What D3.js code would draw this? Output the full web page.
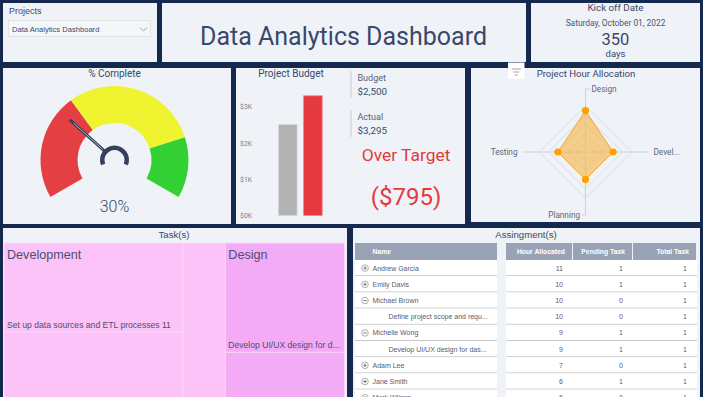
<!DOCTYPE html>
<html>
<head>
<meta charset="utf-8">
<script src="https://cdn.jsdelivr.net/npm/d3@7"></script>
<style>
  body { margin: 0; background: #15294f; overflow: hidden; }
  svg { display: block; }
</style>
</head>
<body>
<svg id="dash" width="703" height="397"></svg>
<script>
// ---- data ----
const projectList = ["Data Analytics Dashboard"];
const dashTitle = "Data Analytics Dashboard";
const kickoffDate = "Saturday, October 01, 2022";
const kickoffDays = 350;

const pctComplete = 0.30;
const gaugeStops = [0, 0.35, 0.80, 1];
const gaugeColors = ["#e43f42", "#eff330", "#33d033"];

const budgetLabels = ["Budget", "Actual"];
const budgetValues = [2500, 3295];
const budgetTicks = [0, 1000, 2000, 3000];

const radarAxes = ["Design", "Development", "Planning", "Testing"];
const radarHours = [18, 12, 12, 12];
const radarMax = 20;

const taskGroup = ["Development", "Development", "Development", "Design", "Design"];
const taskName = ["Set up data sources and ETL processes", "Build data model and measures",
  "Create report visuals", "Develop UI/UX design for dashboard", "Create wireframes"];
const taskHours = [11, 10, 5, 9, 5];
const taskColors = {"Development": "#fbc3f7", "Design": "#f4abf5"};

const tableCols = ["Hour Allocated", "Pending Task", "Total Task"];
const rowName = ["Andrew Garcia", "Emily Davis", "Michael Brown", "Define project scope and requirements",
  "Michelle Wong", "Develop UI/UX design for dashboard", "Adam Lee", "Jane Smith", "Mark Wilson"];
const rowLevel = [0, 0, 0, 1, 0, 1, 0, 0, 0];
const rowOpen = [false, false, true, null, true, null, false, false, false];
const rowHours = [11, 10, 10, 10, 9, 9, 7, 6, 6];
const rowPending = [1, 1, 0, 0, 1, 1, 0, 1, 0];
const rowTotal = [1, 1, 1, 1, 1, 1, 1, 1, 1];

// ---- styling ----
const PANEL = "#eff3f7";
const NAVY = "#3a4869";
const DIN = "Roboto, 'DejaVu Sans', sans-serif";
const SEGOE = "'Liberation Sans', Arial, sans-serif";
const VIEW_H = 397;

const svg = d3.select("#dash");

function panel(x, y, w, h) {
  svg.append("rect").attr("x", x).attr("y", y).attr("width", w).attr("height", h).attr("fill", PANEL);
}
function label(x, y, txt, size, opts) {
  opts = opts || {};
  return svg.append("text")
    .attr("x", x).attr("y", y)
    .attr("font-family", opts.font || DIN)
    .attr("font-size", size)
    .attr("font-weight", opts.weight || 400)
    .attr("fill", opts.fill || NAVY)
    .attr("text-anchor", opts.anchor || "start")
    .text(txt);
}
// cut text to a width, adding "..."
function fit(sel, maxW) {
  const full = sel.text();
  if (sel.node().getComputedTextLength() <= maxW) return;
  let n = full.length;
  while (n > 1) {
    sel.text(full.slice(0, n) + "...");
    if (sel.node().getComputedTextLength() <= maxW) break;
    n--;
  }
}

// ---- panels ----
panel(3, 3, 154, 59);
panel(162, 3, 364, 59);
panel(531, 3, 169, 59);
panel(3, 68, 228, 156);
panel(236, 68, 229, 156);
panel(471, 68, 229, 154);
panel(3, 228, 344, 175);
panel(353, 228, 347, 175);

// ---- slicer ----
label(9, 13.5, "Projects", 9, {font: SEGOE});
svg.append("rect").attr("x", 8.5).attr("y", 20.5).attr("width", 142).attr("height", 16)
  .attr("fill", "#f4f7fa").attr("stroke", "#e3e3e3");
label(12, 31.5, projectList[0], 7.6, {font: SEGOE});
svg.append("path").attr("d", "M140,27.5 L143.5,31 L147,27.5")
  .attr("fill", "none").attr("stroke", "#8a8f9a").attr("stroke-width", 0.8);

// ---- title ----
label(343.5, 45, dashTitle, 25, {anchor: "middle"});

// ---- kick off card ----
label(615.5, 10.5, "Kick off Date", 9.8, {anchor: "middle"});
label(615.5, 26, kickoffDate, 8.4, {anchor: "middle", fill: "#4a5674"});
label(615.5, 45, kickoffDays, 16.5, {anchor: "middle"});
label(615.5, 57, "days", 9.5, {anchor: "middle"});

// ---- gauge ----
label(114.5, 77, "% Complete", 10, {anchor: "middle"});
const gcx = 114.5, gcy = 160;
const ang = d3.scaleLinear().domain([0, 1]).range([-2 * Math.PI / 3, 2 * Math.PI / 3]);
const gArc = d3.arc().innerRadius(37).outerRadius(74);
const gauge = svg.append("g").attr("transform", `translate(${gcx},${gcy})`);
gaugeColors.forEach((c, i) => {
  gauge.append("path")
    .attr("d", gArc({startAngle: ang(gaugeStops[i]), endAngle: ang(gaugeStops[i + 1])}))
    .attr("fill", c);
});
const na = ang(pctComplete);
const pt = r => [Math.sin(na) * r, -Math.cos(na) * r];
gauge.append("line")
  .attr("x1", pt(14)[0]).attr("y1", pt(14)[1]).attr("x2", pt(59)[0]).attr("y2", pt(59)[1])
  .attr("stroke", "#34405e").attr("stroke-width", 3).attr("stroke-linecap", "round");
gauge.append("line")
  .attr("x1", pt(16)[0]).attr("y1", pt(16)[1]).attr("x2", pt(55)[0]).attr("y2", pt(55)[1])
  .attr("stroke", "#c9d0dc").attr("stroke-width", 0.8);
gauge.append("path")
  .attr("d", d3.arc().innerRadius(10).outerRadius(14.5)({startAngle: -1.95, endAngle: 1.95}))
  .attr("fill", "#34405e");
label(gcx, 212, d3.format(".0%")(pctComplete), 16, {anchor: "middle", weight: 300});

// ---- budget ----
label(291, 76.5, "Project Budget", 10, {anchor: "middle"});
const by = d3.scaleLinear().domain([0, 3000]).range([215.5, 106.5]);
const bx = d3.scaleBand().domain(budgetLabels).range([278.5, 322.2]).paddingInner(0.26);
const yAxis = svg.append("g").attr("transform", "translate(252,0)")
  .call(d3.axisLeft(by).tickValues(budgetTicks).tickSize(0).tickPadding(0)
    .tickFormat(d => "$" + d / 1000 + "K"));
yAxis.select(".domain").remove();
yAxis.selectAll("text").attr("font-family", DIN).attr("font-size", 6.8).attr("fill", "#7a7f8c")
  .attr("dy", "0.35em");
const barFill = ["#b2b2b2", "#e53a3f"];
const barEdge = ["#d6d6d6", "#f18a8c"];
svg.selectAll("rect.bar").data(budgetValues).enter().append("rect")
  .attr("class", "bar")
  .attr("x", (d, i) => bx(budgetLabels[i]))
  .attr("y", d => by(d))
  .attr("width", bx.bandwidth())
  .attr("height", d => by(0) - by(d))
  .attr("fill", (d, i) => barFill[i])
  .attr("stroke", (d, i) => barEdge[i]).attr("stroke-width", 0.8);

budgetLabels.forEach((b, i) => {
  const top = 71 + i * 39;
  svg.append("line").attr("x1", 351).attr("x2", 351).attr("y1", top).attr("y2", top + 27)
    .attr("stroke", "#d3d6db").attr("stroke-width", 1.3);
  label(357.5, top + 9.5, b, 9, {fill: "#55607c"});
  label(357.5, top + 24, d3.format("$,")(budgetValues[i]), 9.8);
});
const overBy = budgetValues[1] - budgetValues[0];
label(406, 160.7, overBy > 0 ? "Over Target" : "On Target", 17.4, {anchor: "middle", fill: "#e5393e"});
label(406, 205, "(" + d3.format("$,")(overBy) + ")", 24, {anchor: "middle", fill: "#e5393e"});

// ---- radar ----
label(586, 76.5, "Project Hour Allocation", 9.6, {anchor: "middle"});
svg.append("rect").attr("x", 508).attr("y", 62.5).attr("width", 16.5).attr("height", 16.5).attr("fill", "#ffffff");
[[9, 69], [6, 72], [3, 75]].forEach(l => {
  svg.append("line").attr("x1", 516.3 - l[0] / 2).attr("x2", 516.3 + l[0] / 2)
    .attr("y1", l[1]).attr("y2", l[1]).attr("stroke", "#8c8c8c").attr("stroke-width", 0.8);
});
const rcx = 585.5, rcy = 152;
const rr = d3.scaleLinear().domain([0, radarMax]).range([0, 46]);
const angOf = a => radarAxes.indexOf(a) * 2 * Math.PI / radarAxes.length;
const radar = svg.append("g").attr("transform", `translate(${rcx},${rcy})`);
const ring = d3.lineRadial().curve(d3.curveLinearClosed);
[0.2, 0.4, 0.6, 0.8, 1].forEach(f => {
  radar.append("path")
    .attr("d", ring(radarAxes.map(a => [angOf(a), rr(radarMax * f)])))
    .attr("fill", "none").attr("stroke", "#d4d7dc").attr("stroke-width", 0.8);
});
radarAxes.forEach(a => {
  const t = angOf(a);
  radar.append("line").attr("x1", 0).attr("y1", 0)
    .attr("x2", Math.sin(t) * 63).attr("y2", -Math.cos(t) * 63)
    .attr("stroke", "#c4c8ce").attr("stroke-width", 0.8);
});
radar.append("path")
  .attr("d", ring(radarAxes.map((a, i) => [angOf(a), rr(radarHours[i])])))
  .attr("fill", "#f5b94e").attr("fill-opacity", 0.65)
  .attr("stroke", "#f2a93b").attr("stroke-width", 1);
radar.selectAll("circle").data(radarHours).enter().append("circle")
  .attr("cx", (d, i) => Math.sin(angOf(radarAxes[i])) * rr(d))
  .attr("cy", (d, i) => -Math.cos(angOf(radarAxes[i])) * rr(d))
  .attr("r", 3.6).attr("fill", "#ff9f00");
// axis labels with little connectors
radar.append("line").attr("x1", 0).attr("x2", 4).attr("y1", -63).attr("y2", -63).attr("stroke", "#c4c8ce").attr("stroke-width", 0.8);
radar.append("line").attr("x1", 0).attr("x2", -4).attr("y1", 63).attr("y2", 63).attr("stroke", "#c4c8ce").attr("stroke-width", 0.8);
label(rcx + 6, rcy - 60, radarAxes[0], 8.2, {fill: "#5b6680"});
fit(label(rcx + 68, rcy + 3, radarAxes[1], 8.2, {fill: "#5b6680"}), 30);
label(rcx - 5.5, rcy + 66, radarAxes[2], 8.2, {anchor: "end", fill: "#5b6680"});
label(rcx - 68, rcy + 3, radarAxes[3], 8.2, {anchor: "end", fill: "#5b6680"});

// ---- treemap ----
label(174, 237.5, "Task(s)", 9.6, {anchor: "middle", font: SEGOE});
const groups = Array.from(new Set(taskGroup));
const tree = {name: "root", children: groups.map(g => ({
  name: g,
  children: taskName.map((t, i) => ({name: t, value: taskHours[i], group: taskGroup[i]}))
    .filter(d => d.group === g)
}))};
const root = d3.hierarchy(tree).sum(d => d.value || 0).sort((a, b) => b.value - a.value);
const tmTop = 243;
d3.treemap().size([340.5, 170]).tile(d3.treemapSquarify)(root);
const tm = svg.append("g").attr("transform", `translate(4,${tmTop})`);
tm.selectAll("rect").data(root.leaves()).enter().append("rect")
  .attr("x", d => d.x0).attr("y", d => d.y0)
  .attr("width", d => d.x1 - d.x0).attr("height", d => d.y1 - d.y0)
  .attr("fill", d => taskColors[d.data.group])
  .attr("stroke", "#fdd9fb").attr("stroke-width", 0.8);
root.children.forEach(g => {
  tm.append("text").attr("x", g.x0 + 3).attr("y", g.y0 + 16)
    .attr("font-family", SEGOE).attr("font-size", 12.6).attr("fill", "#4a5070")
    .text(g.data.name);
});
// leaf labels sit at the bottom of each tile; the ones below the fold are not shown
root.leaves().filter(d => tmTop + d.y1 - 12 < VIEW_H).forEach(d => {
  const t = tm.append("text").attr("x", d.x0 + 3).attr("y", d.y1 - 4.5)
    .attr("font-family", SEGOE).attr("font-size", 8.6).attr("fill", "#4a5070")
    .text(d.data.name + " " + d.value);
  fit(t, d.x1 - d.x0 - 6);
});

// ---- table ----
label(526, 237.5, "Assingment(s)", 9.6, {anchor: "middle", font: SEGOE});
const colEdges = [506, 573, 633, 697];
const rowY = d3.scaleBand().domain(d3.range(rowName.length)).range([260, 260 + 16.2 * rowName.length]);
svg.append("rect").attr("x", 355).attr("y", 243).attr("width", 142).attr("height", 17).attr("fill", "#9aa3b6");
tableCols.forEach((c, j) => {
  svg.append("rect").attr("x", colEdges[j]).attr("y", 243).attr("width", colEdges[j + 1] - colEdges[j] - 1)
    .attr("height", 17).attr("fill", "#9aa3b6");
  label(colEdges[j + 1] - 8, 253.8, c, 6.8, {anchor: "end", font: SEGOE, weight: 700, fill: "#ffffff"});
});
label(372.5, 253.8, "Name", 6.8, {font: SEGOE, weight: 700, fill: "#ffffff"});
rowName.forEach((n, i) => {
  const y0 = rowY(i), h = rowY.bandwidth(), cy = y0 + h / 2;
  svg.append("rect").attr("x", 355).attr("y", y0).attr("width", 142).attr("height", h).attr("fill", "#ffffff");
  svg.append("rect").attr("x", 506).attr("y", y0).attr("width", 191).attr("height", h).attr("fill", "#ffffff");
  svg.append("line").attr("x1", 355).attr("x2", 497).attr("y1", y0 + h - 0.5).attr("y2", y0 + h - 0.5)
    .attr("stroke", "#c8c8c8").attr("stroke-width", 1);
  svg.append("line").attr("x1", 506).attr("x2", 697).attr("y1", y0 + h - 0.5).attr("y2", y0 + h - 0.5)
    .attr("stroke", "#c8c8c8").attr("stroke-width", 1);
  if (rowLevel[i] === 0) {
    svg.append("circle").attr("cx", 365).attr("cy", cy).attr("r", 3.3)
      .attr("fill", "none").attr("stroke", "#8c8c8c").attr("stroke-width", 0.7);
    svg.append("line").attr("x1", 363.3).attr("x2", 366.7).attr("y1", cy).attr("y2", cy)
      .attr("stroke", "#6c6c6c").attr("stroke-width", 0.9);
    if (!rowOpen[i]) {
      svg.append("line").attr("x1", 365).attr("x2", 365).attr("y1", cy - 1.7).attr("y2", cy + 1.7)
        .attr("stroke", "#6c6c6c").attr("stroke-width", 0.9);
    }
    label(372.5, cy + 2.5, n, 7, {font: SEGOE, fill: "#555d70"});
  } else {
    fit(label(388.5, cy + 2.5, n, 7, {font: SEGOE, fill: "#555d70"}), 100);
  }
  [rowHours[i], rowPending[i], rowTotal[i]].forEach((v, j) => {
    label(colEdges[j + 1] - 10, cy + 2.5, v, 7, {anchor: "end", font: SEGOE, fill: "#555d70"});
  });
});
</script>
</body>
</html>
